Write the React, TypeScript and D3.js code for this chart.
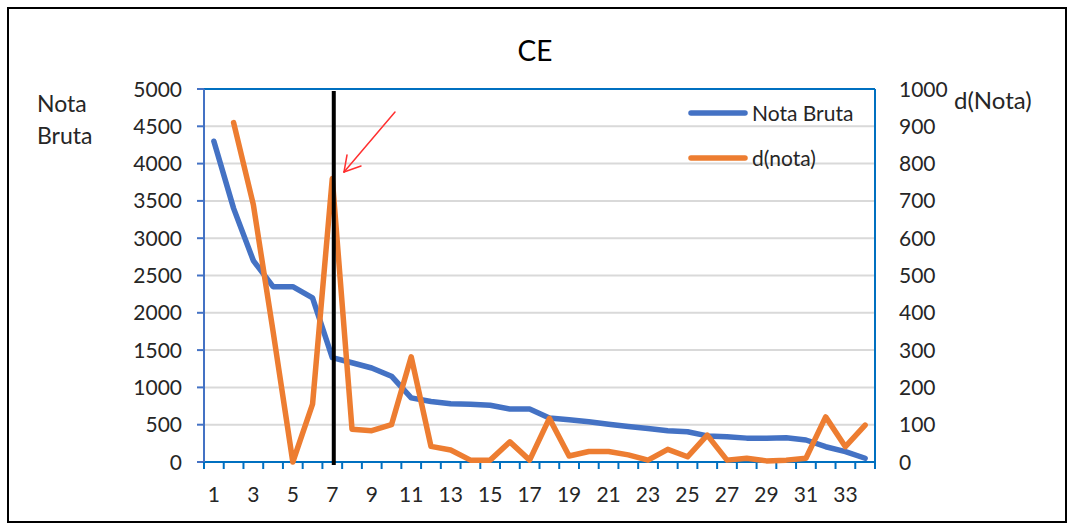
import React from "react";
import * as d3 from "d3";

const categories: number[] = Array.from({ length: 34 }, (_, i) => i + 1);
const notaBruta: number[] = [4300, 3400, 2700, 2350, 2350, 2200, 1400, 1330, 1260, 1150, 860, 810, 780, 775, 760, 710, 710, 590, 565, 540, 505, 475, 450, 420, 405, 350, 340, 320, 320, 325, 295, 205, 140, 50];
const dNota: (number | null)[] = [null, 910, 690, 350, 0, 155, 760, 88, 84, 100, 282, 42, 32, 5, 5, 54, 5, 117, 16, 28, 28, 19, 5, 34, 14, 72, 5, 10, 3, 5, 10, 121, 41, 99];
const leftTicks: number[] = [0, 500, 1000, 1500, 2000, 2500, 3000, 3500, 4000, 4500, 5000];
const rightTicks: number[] = [0, 100, 200, 300, 400, 500, 600, 700, 800, 900, 1000];
const xLabels: number[] = categories.filter((c) => c % 2 === 1);
const markedCategory = 7;

const W = 1070, H = 526;
const L = 204, R = 875, T = 89, B = 462;
const FONT = "Lato, 'Open Sans', sans-serif";
const BLUE = "#4472C4", ORANGE = "#ED7D31", AXIS = "#0070C0", TXT = "#262626";

export default function App() {
  const x = d3.scaleBand<number>().domain(categories).range([L, R]).padding(0);
  const bw = x.bandwidth();
  const cx = (c: number) => (x(c) as number) + bw / 2;
  const yL = d3.scaleLinear().domain([0, 5000]).range([B, T]);
  const yR = d3.scaleLinear().domain([0, 1000]).range([B, T]);

  const lineL = d3.line<number>().x((_, i) => cx(categories[i])).y((d) => yL(d));
  const lineR = d3
    .line<number | null>()
    .defined((d) => d !== null)
    .x((_, i) => cx(categories[i]))
    .y((d) => yR(d as number));

  const boundaries = [...categories.map((c) => x(c) as number), R];
  const vx = cx(markedCategory) + 1.5;

  return (
    <svg width={W} height={H} style={{ position: "absolute", left: 0, top: 0, background: "#fff" }} fontFamily={FONT}>
      <rect x={8} y={8} width={1058} height={514} fill="#fff" stroke="#000" strokeWidth={2} />
      <text x={535} y={61} textAnchor="middle" fontSize={28} fill="#000">CE</text>

      {/* gridlines */}
      {leftTicks.filter((t) => t > 0 && t < 5000).map((t) => (
        <line key={t} x1={L} x2={R} y1={yL(t)} y2={yL(t)} stroke="#d9d9d9" strokeWidth={2} />
      ))}

      {/* plot borders / axes */}
      <line x1={L} x2={R} y1={T} y2={T} stroke={AXIS} strokeWidth={2} />
      <line x1={R} x2={R} y1={T} y2={B + 5} stroke={AXIS} strokeWidth={2} />
      <line x1={L - 7} x2={R} y1={B} y2={B} stroke={AXIS} strokeWidth={2} />
      <line x1={L} x2={L} y1={T} y2={B + 7} stroke={BLUE} strokeWidth={2} />
      {leftTicks.map((t) => (
        <line key={"lt" + t} x1={L - 7} x2={L} y1={yL(t)} y2={yL(t)} stroke={BLUE} strokeWidth={2} />
      ))}
      {boundaries.map((bx, i) => (
        <line key={"xt" + i} x1={bx} x2={bx} y1={B} y2={B + 7} stroke={AXIS} strokeWidth={2} />
      ))}

      {/* tick labels */}
      {leftTicks.map((t) => (
        <text key={"ll" + t} x={182} y={yL(t)} dy="0.36em" textAnchor="end" fontSize={21} fill={TXT}>{t}</text>
      ))}
      {rightTicks.map((t) => (
        <text key={"rl" + t} x={899} y={yR(t)} dy="0.36em" textAnchor="start" fontSize={21} fill={TXT}>{t}</text>
      ))}
      {xLabels.map((c) => (
        <text key={"xl" + c} x={cx(c)} y={502} textAnchor="middle" fontSize={21} fill={TXT}>{c}</text>
      ))}

      {/* axis titles */}
      <text x={37} y={112} fontSize={23} fill={TXT}>Nota</text>
      <text x={37} y={144} fontSize={23} fill={TXT}>Bruta</text>
      <text x={954} y={109} fontSize={24} fill={TXT}>d(Nota)</text>

      {/* series */}
      <path d={lineL(notaBruta) as string} fill="none" stroke={BLUE} strokeWidth={5.5} strokeLinejoin="round" strokeLinecap="round" />
      <path d={lineR(dNota) as string} fill="none" stroke={ORANGE} strokeWidth={5.5} strokeLinejoin="round" strokeLinecap="round" />

      {/* marker line */}
      <line x1={vx} x2={vx} y1={91} y2={465} stroke="#000" strokeWidth={4} />

      {/* red arrow */}
      <g stroke="#ff3030" strokeWidth={1.5} fill="none" strokeLinecap="round">
        <line x1={395} y1={112} x2={344} y2={172} />
        <line x1={344} y1={172} x2={347} y2={155} />
        <line x1={344} y1={172} x2={361} y2={166} />
      </g>

      {/* legend */}
      <line x1={691} x2={745} y1={113} y2={113} stroke={BLUE} strokeWidth={5.5} strokeLinecap="round" />
      <text x={752} y={113} dy="0.36em" fontSize={21} fill={TXT}>Nota Bruta</text>
      <line x1={691} x2={745} y1={158} y2={158} stroke={ORANGE} strokeWidth={5.5} strokeLinecap="round" />
      <text x={752} y={158} dy="0.36em" fontSize={21} fill={TXT}>d(nota)</text>
    </svg>
  );
}
